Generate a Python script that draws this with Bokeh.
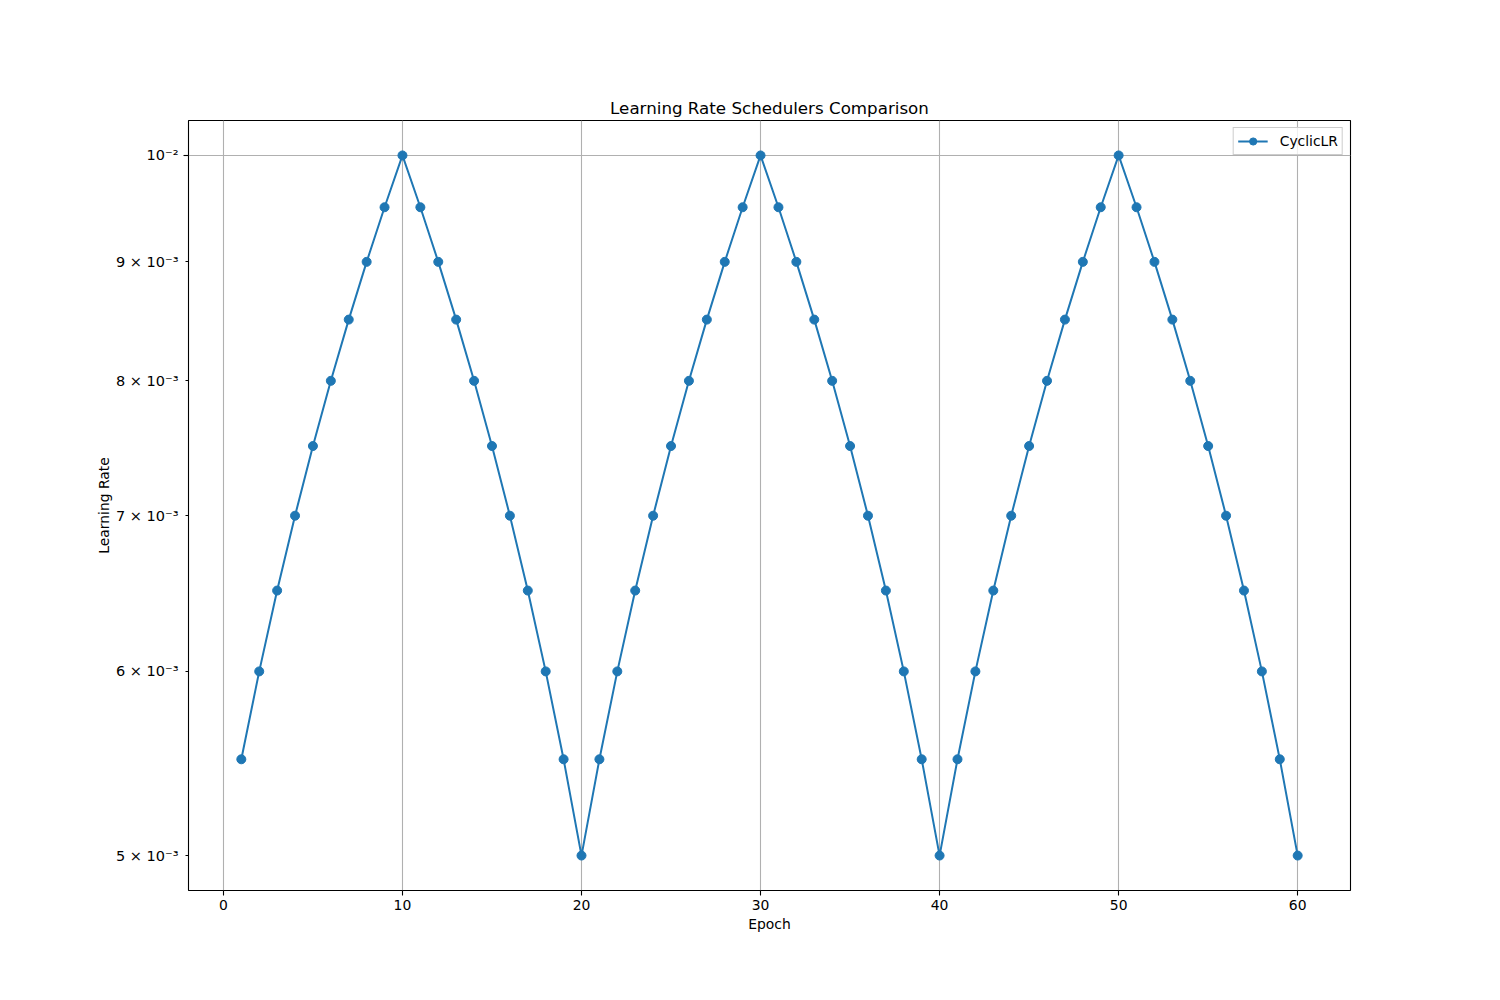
from bokeh.plotting import figure
from bokeh.models import FixedTicker, Range1d, Legend, LegendItem
from bokeh.embed import file_html
from bokeh.resources import INLINE

epochs = list(range(1, 61))
lr_values = [
    0.0055, 0.0060, 0.0065, 0.0070, 0.0075, 0.0080, 0.0085, 0.0090, 0.0095, 0.0100,
    0.0095, 0.0090, 0.0085, 0.0080, 0.0075, 0.0070, 0.0065, 0.0060, 0.0055, 0.0050,
    0.0055, 0.0060, 0.0065, 0.0070, 0.0075, 0.0080, 0.0085, 0.0090, 0.0095, 0.0100,
    0.0095, 0.0090, 0.0085, 0.0080, 0.0075, 0.0070, 0.0065, 0.0060, 0.0055, 0.0050,
    0.0055, 0.0060, 0.0065, 0.0070, 0.0075, 0.0080, 0.0085, 0.0090, 0.0095, 0.0100,
    0.0095, 0.0090, 0.0085, 0.0080, 0.0075, 0.0070, 0.0065, 0.0060, 0.0055, 0.0050,
]
x_ticks = [0, 10, 20, 30, 40, 50, 60]
y_ticks = [0.005, 0.006, 0.007, 0.008, 0.009, 0.01]
y_tick_labels = ["5 × 10⁻³", "6 × 10⁻³", "7 × 10⁻³", "8 × 10⁻³", "9 × 10⁻³", "10⁻²"]
series_name = "CyclicLR"

FONT = "DejaVu Sans"
BLUE = "#1f77b4"

p = figure(
    width=1484, height=984,
    y_axis_type="log",
    x_range=Range1d(-1.95, 62.95),
    y_range=Range1d(0.004830, 0.010352),
    output_backend="svg", toolbar_location=None,
    min_border_left=188, min_border_right=134,
    min_border_top=120, min_border_bottom=94,
    title="Learning Rate Schedulers Comparison",
)
p.title.align = "center"
p.title.text_font = FONT
p.title.text_font_size = "16.7px"
p.title.text_font_style = "normal"
p.title.text_color = "black"
p.title.standoff = 6

p.outline_line_color = "black"
p.outline_line_width = 1.1
p.outline_line_alpha = 1.0

# x axis
p.xaxis.ticker = FixedTicker(ticks=x_ticks)
p.xaxis.axis_label = "Epoch"
p.xaxis.major_tick_out = 5
p.xaxis.major_tick_in = 0
p.xaxis.minor_tick_out = 0
p.xaxis.minor_tick_in = 0

# y axis
p.yaxis.ticker = FixedTicker(ticks=y_ticks, minor_ticks=[0.01])
p.yaxis.major_label_overrides = {t: l for t, l in zip(y_ticks, y_tick_labels)}
p.yaxis.axis_label = "Learning Rate"
p.yaxis.major_tick_out = 3
p.yaxis.major_tick_in = 0
p.yaxis.minor_tick_out = 5
p.yaxis.minor_tick_in = 0

for ax in (p.xaxis, p.yaxis):
    ax.axis_label_text_font = FONT
    ax.axis_label_text_font_size = "13.9px"
    ax.axis_label_text_font_style = "normal"
    ax.axis_label_text_color = "black"
    ax.major_label_text_font = FONT
    ax.major_label_text_font_size = "13.9px"
    ax.major_label_text_color = "black"
    ax.axis_line_color = None
    ax.major_tick_line_color = "black"
    ax.minor_tick_line_color = "black"
    ax.major_tick_line_width = 1.1
    ax.minor_tick_line_width = 1.1
p.yaxis.major_label_text_font_size = "14.5px"
p.xaxis.major_label_standoff = 4
p.yaxis.major_label_standoff = 5
p.xaxis.axis_label_standoff = 3
p.yaxis.axis_label_standoff = 1

# grid
p.xgrid.ticker = FixedTicker(ticks=x_ticks)
p.ygrid.ticker = FixedTicker(ticks=[0.01])
for g in (p.xgrid, p.ygrid):
    g.grid_line_color = "#b0b0b0"
    g.grid_line_width = 1.1
    g.grid_line_alpha = 1.0

line_r = p.line(epochs, lr_values, line_color=BLUE, line_width=2)
pts_r = p.scatter(epochs, lr_values, size=9, fill_color=BLUE, line_color=BLUE)

legend = Legend(
    items=[LegendItem(label=series_name, renderers=[line_r, pts_r])],
    location="top_right",
    label_text_font=FONT,
    label_text_font_size="13.9px",
    label_text_color="black",
    border_line_color="#cccccc",
    border_line_alpha=1.0,
    border_line_width=1,
    background_fill_alpha=0.8,
    glyph_width=30,
    glyph_height=18,
    label_standoff=12,
    padding=4,
    spacing=0,
    margin=7,
)
p.add_layout(legend)

open("out.html", "w").write(file_html(p, INLINE))
